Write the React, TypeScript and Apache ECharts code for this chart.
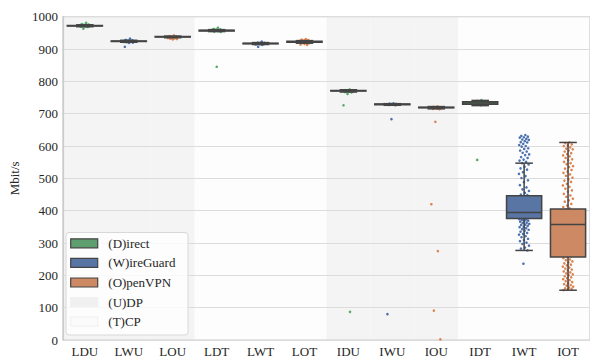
import React, { useEffect, useRef } from "react";
import * as echarts from "echarts";

const categories = ["LDU", "LWU", "LOU", "LDT", "LWT", "LOT", "IDU", "IWU", "IOU", "IDT", "IWT", "IOT"];
const yTicksMax = 1000;

// box statistics per category (whisker low, Q1, median, Q3, whisker high), Mbit/s
const boxLow = [969, 921, 935, 954, 914, 918, 767, 726, 715, 725, 277, 154];
const boxQ1 = [971, 923, 937, 956, 916, 921, 770, 728, 718, 729, 376, 257];
const boxMedian = [972, 924, 938, 957, 917, 922, 771, 729, 719, 733, 394, 357];
const boxQ3 = [973, 925, 939, 958, 918, 924, 772, 730, 720, 737, 446, 405];
const boxHigh = [975, 927, 940, 960, 920, 926, 774, 731, 722, 741, 547, 611];

// individual measurements (strip points)
const ptsLDU = [981, 977, 976, 975, 975, 974, 974, 973, 973, 973, 972, 972, 972, 971, 971, 970, 970, 969, 968, 963];
const ptsLWU = [932, 928, 927, 926, 926, 925, 925, 924, 924, 924, 923, 923, 922, 922, 921, 920, 919, 907];
const ptsLOU = [942, 940, 939, 938, 938, 937, 937, 936, 936, 935, 935, 934, 934, 933, 932, 931, 930];
const ptsLDT = [966, 962, 961, 960, 960, 959, 959, 958, 958, 957, 957, 956, 956, 955, 954, 953, 845];
const ptsLWT = [923, 920, 919, 919, 918, 918, 917, 917, 916, 916, 915, 915, 914, 913, 907];
const ptsLOT = [931, 929, 928, 927, 926, 925, 924, 924, 923, 923, 922, 921, 920, 919, 918, 917, 916, 914, 913];
const ptsIDU = [775, 773, 772, 771, 771, 770, 770, 769, 768, 767, 766, 761, 726, 87];
const ptsIWU = [732, 731, 730, 730, 729, 729, 729, 728, 728, 727, 726, 683, 80];
const ptsIOU = [723, 721, 720, 719, 719, 718, 718, 717, 716, 715, 714, 675, 420, 275, 91, 2];
const ptsIDT = [742, 740, 739, 738, 737, 737, 736, 735, 735, 734, 734, 733, 733, 732, 732, 731, 730, 730, 729, 728, 727, 726, 557];
const ptsIWT = [
  634, 631, 629, 627, 626, 622, 620, 619, 615, 612, 611, 607, 603, 600, 598, 593, 591, 586, 583, 579, 574, 572, 566,
  563, 558, 555, 551, 547, 543, 536, 531, 527, 519, 514, 507, 501, 494, 488, 479, 472, 466, 461, 455, 450, 448,
  445, 442, 441, 438, 436, 435, 431, 430, 427, 425, 424, 420, 418, 417, 413, 411, 410, 407, 406, 404, 402, 401, 400,
  399, 398, 397, 396, 396, 395, 393, 393, 392, 391, 391, 390, 389, 389, 388, 387, 386, 386, 385, 384, 383, 383, 382,
  381, 380, 380, 379, 378, 378, 377, 377, 376, 375, 374, 372, 371, 369, 368, 366, 363, 362, 359, 357, 356, 353, 350,
  349, 346, 343, 341, 338, 335, 331, 328, 326, 321, 318, 313, 309, 306, 301, 297, 292, 286, 283, 277, 236,
];
const ptsIOT = [
  611, 609, 605, 602, 600, 596, 592, 590, 586, 583, 578, 575, 571, 568, 563, 559, 556, 551, 547, 544, 538, 535, 530,
  526, 521, 517, 512, 508, 502, 497, 493, 489, 483, 478, 474, 468, 463, 459, 452, 447, 443, 437, 432, 428, 421, 416,
  411, 407, 404, 399, 396, 391, 387, 382, 378, 373, 369, 365, 361, 358, 357, 356, 352, 347, 341, 336, 330, 324, 318,
  311, 305, 298, 292, 286, 279, 273, 268, 263, 259, 256, 253, 249, 247, 243, 240, 237, 233, 231, 227, 224, 221, 218,
  215, 212, 209, 206, 203, 200, 197, 194, 191, 188, 185, 182, 179, 176, 173, 170, 168, 165, 162, 160, 158, 156, 154,
];
const points = [ptsLDU, ptsLWU, ptsLOU, ptsLDT, ptsLWT, ptsLOT, ptsIDU, ptsIWU, ptsIOU, ptsIDT, ptsIWT, ptsIOT];

const hues = ["D", "W", "O"];
const hueNames = ["(D)irect", "(W)ireGuard", "(O)penVPN"];
const pointColor: Record<string, string> = { D: "#55a868", W: "#4c72b0", O: "#dd8452" };
const boxColor: Record<string, string> = { D: "#5f9e6e", W: "#5875a4", O: "#cc8963" };
const udpColor = "#f4f4f4";
const tcpColor = "#fdfdfd";
const edge = "#444444";
const FONT = '"Liberation Serif", "Times New Roman", serif';

function jitter(k: number) {
  return (((k + 1) * 0.6180339887) % 1 - 0.5) * 0.24;
}

export default function App() {
  const ref = useRef<HTMLDivElement>(null);
  useEffect(() => {
    if (!ref.current) return;
    const chart = echarts.init(ref.current, undefined, { renderer: "svg" });

    const scatterSeries = hues.map((h, hi) => {
      const data: number[][] = [];
      categories.forEach((c, ci) => {
        if (c[1] !== h) return;
        points[ci].forEach((v, k) => data.push([ci + jitter(k), v]));
      });
      return {
        name: hueNames[hi],
        type: "scatter",
        xAxisIndex: 1,
        yAxisIndex: 0,
        symbol: "circle",
        symbolSize: 2.6,
        itemStyle: { color: pointColor[h], opacity: 1 },
        data,
        z: 2,
        silent: true,
      };
    });

    const boxData = categories.map((c, i) => [i, boxLow[i], boxQ1[i], boxMedian[i], boxQ3[i], boxHigh[i]]);

    const boxSeries = {
      type: "custom",
      xAxisIndex: 1,
      yAxisIndex: 0,
      z: 3,
      encode: { x: 0, y: [1, 2, 3, 4, 5] },
      data: boxData,
      renderItem: (params: any, api: any) => {
        const idx = api.value(0);
        const lo = api.coord([idx, api.value(1)]);
        const q1 = api.coord([idx, api.value(2)]);
        const md = api.coord([idx, api.value(3)]);
        const q3 = api.coord([idx, api.value(4)]);
        const hi = api.coord([idx, api.value(5)]);
        const w = api.size([0.8, 0])[0];
        const cx = lo[0];
        const fill = boxColor[categories[params.dataIndex][1]];
        const ls = { stroke: edge, lineWidth: 1.5 };
        return {
          type: "group",
          children: [
            { type: "line", shape: { x1: cx, y1: hi[1], x2: cx, y2: q3[1] }, style: ls },
            { type: "line", shape: { x1: cx, y1: q1[1], x2: cx, y2: lo[1] }, style: ls },
            { type: "line", shape: { x1: cx - w / 4, y1: hi[1], x2: cx + w / 4, y2: hi[1] }, style: ls },
            { type: "line", shape: { x1: cx - w / 4, y1: lo[1], x2: cx + w / 4, y2: lo[1] }, style: ls },
            {
              type: "rect",
              shape: { x: cx - w / 2, y: q3[1], width: w, height: Math.max(q1[1] - q3[1], 0.5) },
              style: { fill, stroke: edge, lineWidth: 1.5 },
            },
            { type: "line", shape: { x1: cx - w / 2, y1: md[1], x2: cx + w / 2, y2: md[1] }, style: ls },
          ],
        };
      },
    };

    const bandColors = categories.map((c) => (c[2] === "U" ? udpColor : tcpColor));

    const legendRows = [
      { label: hueNames[0], fill: boxColor.D, stroke: edge },
      { label: hueNames[1], fill: boxColor.W, stroke: edge },
      { label: hueNames[2], fill: boxColor.O, stroke: edge },
      { label: "(U)DP", fill: "#f0f0f0", stroke: "#f0f0f0" },
      { label: "(T)CP", fill: "#fbfbfb", stroke: "#f2f2f2" },
    ];
    const legendGraphics: any[] = [
      {
        type: "rect",
        shape: { x: 66, y: 232.5, width: 122, height: 102.5, r: 3 },
        style: { fill: "rgba(255,255,255,0.8)", stroke: "#d8d8d8", lineWidth: 1 },
        z: 100,
      },
    ];
    legendRows.forEach((r, i) => {
      const cy = 243.3 + i * 19.6;
      legendGraphics.push({
        type: "rect",
        shape: { x: 70.7, y: cy - 4.5, width: 27, height: 9 },
        style: { fill: r.fill, stroke: r.stroke, lineWidth: 1.2 },
        z: 101,
      });
      legendGraphics.push({
        type: "text",
        style: { text: r.label, x: 108.3, y: cy, font: `13px ${FONT}`, fill: "#262626", verticalAlign: "middle" },
        z: 101,
      });
    });

    chart.setOption({
      animation: false,
      backgroundColor: "#ffffff",
      grid: {
        left: 58.5,
        top: 16.7,
        width: 535,
        height: 325,
        show: true,
        borderColor: "#cccccc",
        borderWidth: 1.2,
        backgroundColor: "transparent",
      },
      xAxis: [
        {
          type: "category",
          data: categories,
          z: -1,
          boundaryGap: true,
          axisLine: { show: false },
          axisTick: { show: false },
          axisLabel: { color: "#262626", fontFamily: FONT, fontSize: 13, margin: 5 },
          splitLine: { show: false },
          splitArea: { show: true, areaStyle: { color: bandColors } },
        },
        {
          type: "value",
          min: -0.5,
          max: 11.5,
          show: false,
          axisLine: { show: false, onZero: false },
          splitLine: { show: false },
        },
      ],
      yAxis: {
        type: "value",
        min: 0,
        max: yTicksMax,
        interval: 100,
        name: "Mbit/s",
        nameLocation: "middle",
        nameGap: 35,
        nameTextStyle: { color: "#262626", fontFamily: FONT, fontSize: 13 },
        axisLine: { show: true, onZero: false, lineStyle: { color: "#cccccc", width: 1.2 } },
        axisTick: { show: false },
        axisLabel: {
          color: "#262626",
          fontFamily: FONT,
          fontSize: 13,
          margin: 5,
          formatter: (v: number) => String(v),
        },
        splitLine: { show: true, lineStyle: { color: "#dcdcdc", width: 1.2 } },
      },
      graphic: legendGraphics,
      series: [...scatterSeries, boxSeries],
    });
    return () => chart.dispose();
  }, []);
  return <div ref={ref} style={{ position: "fixed", left: 0, top: 0, width: 590, height: 358 }} />;
}
